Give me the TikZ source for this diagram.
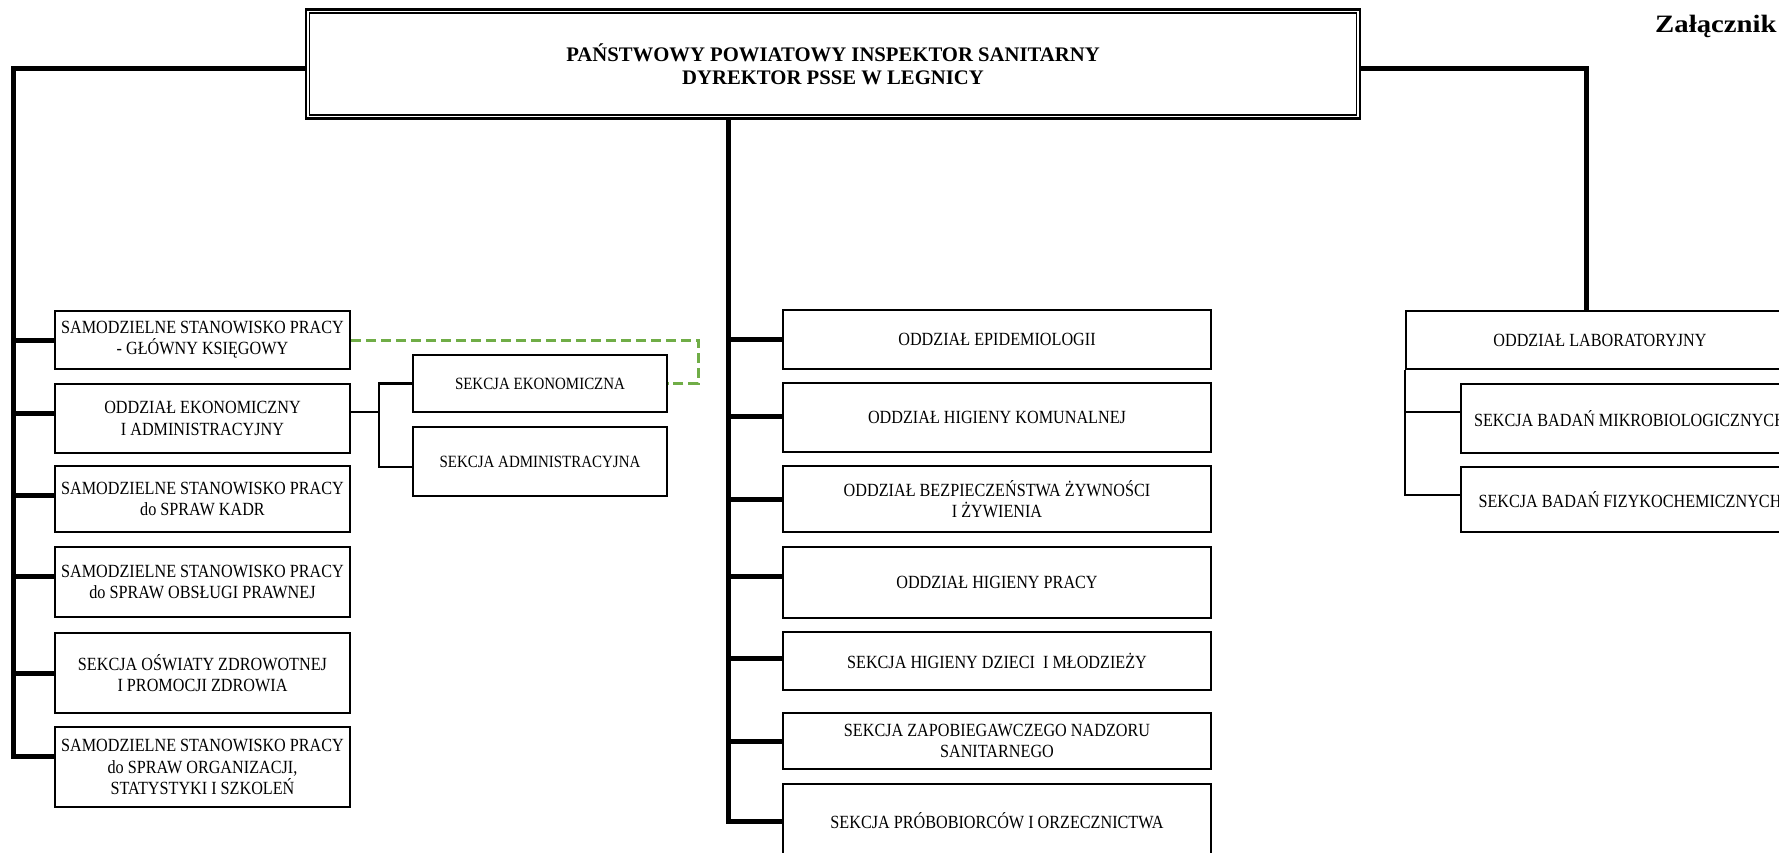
\documentclass[tikz,border=0pt]{standalone}
\usepackage{fontspec}
\setmainfont{Liberation Serif}[FakeStretch=0.87]
\newfontfamily\titlefont{Liberation Serif}
\newfontfamily\zalfont{Liberation Serif}[FakeStretch=1.15]
\definecolor{dgreen}{HTML}{70AD47}
\begin{document}
\begin{tikzpicture}[x=1pt,y=-1pt,
  box/.style={draw, line width=2.3pt, inner sep=0pt, align=center, font=\fontsize{18.6}{21.3}\selectfont},
  sbox/.style={box, font=\fontsize{17.2}{20}\selectfont},
  bus/.style={line width=5pt, line join=miter},
  conn/.style={line width=2.2pt},
  gdash/.style={line width=3pt, draw=dgreen, dash pattern=on 10pt off 5pt}]
\useasboundingbox (0,0) rectangle (1779,853);
\clip (0,0) rectangle (1779,853);

% top box
\node[draw, line width=2.6pt, minimum width=1054pt, minimum height=109pt, inner sep=0pt, align=center,
      font=\titlefont\bfseries\fontsize{20.7}{23}\selectfont] (top) at (833,64)
      {PAŃSTWOWY POWIATOWY INSPEKTOR SANITARNY\\DYREKTOR PSSE W LEGNICY};
\draw[line width=1.5pt] ([shift={(4.8pt,-4.8pt)}]top.north west) rectangle ([shift={(-4.8pt,4.8pt)}]top.south east);

\node[anchor=base west, inner sep=0pt, font=\zalfont\bfseries\fontsize{25}{28}\selectfont] (zal) at (1655,33) {Załącznik};

% left column
\node[box, minimum width=295pt, minimum height=58pt] (L1) at (202.5,340) {SAMODZIELNE STANOWISKO PRACY\\- GŁÓWNY KSIĘGOWY};
\node[box, minimum width=295pt, minimum height=69pt] (L2) at (202.5,418.5) {ODDZIAŁ EKONOMICZNY\\I ADMINISTRACYJNY};
\node[box, minimum width=295pt, minimum height=66pt] (L3) at (202.5,499) {SAMODZIELNE STANOWISKO PRACY\\do SPRAW KADR};
\node[box, minimum width=295pt, minimum height=70pt] (L4) at (202.5,582) {SAMODZIELNE STANOWISKO PRACY\\do SPRAW OBSŁUGI PRAWNEJ};
\node[box, minimum width=295pt, minimum height=80pt] (L5) at (202.5,673) {SEKCJA OŚWIATY ZDROWOTNEJ\\I PROMOCJI ZDROWIA};
\node[box, minimum width=295pt, minimum height=80pt] (L6) at (202.5,767) {SAMODZIELNE STANOWISKO PRACY\\do SPRAW ORGANIZACJI,\\STATYSTYKI I SZKOLEŃ};

% sub sections
\node[sbox, minimum width=254pt, minimum height=57pt] (SE) at (540,383.5) {SEKCJA EKONOMICZNA};
\node[sbox, minimum width=254pt, minimum height=69pt] (SA) at (540,461.5) {SEKCJA ADMINISTRACYJNA};

% centre column
\node[box, minimum width=428pt, minimum height=59pt] (C1) at (997,339.5) {ODDZIAŁ EPIDEMIOLOGII};
\node[box, minimum width=428pt, minimum height=69pt] (C2) at (997,417.5) {ODDZIAŁ HIGIENY KOMUNALNEJ};
\node[box, minimum width=428pt, minimum height=66pt] (C3) at (997,499) {ODDZIAŁ BEZPIECZEŃSTWA ŻYWNOŚCI\\I ŻYWIENIA};
\node[box, minimum width=428pt, minimum height=71pt] (C4) at (997,582.5) {ODDZIAŁ HIGIENY PRACY};
\node[box, minimum width=428pt, minimum height=58pt] (C5) at (997,661) {SEKCJA HIGIENY DZIECI~ I MŁODZIEŻY};
\node[box, minimum width=428pt, minimum height=56pt] (C6) at (997,741) {SEKCJA ZAPOBIEGAWCZEGO NADZORU\\SANITARNEGO};
\node[box, minimum width=428pt, minimum height=74pt] (C7) at (997,821) {SEKCJA PRÓBOBIORCÓW I ORZECZNICTWA};

% right column
\node[box, minimum width=388pt, minimum height=58pt] (LAB) at (1600,340) {ODDZIAŁ LABORATORYJNY};
\node[box, minimum width=338pt, minimum height=69pt] (MK) at (1630,418.5) {SEKCJA BADAŃ MIKROBIOLOGICZNYCH};
\node[box, minimum width=338pt, minimum height=65pt] (FZ) at (1630,499.5) {SEKCJA BADAŃ FIZYKOCHEMICZNYCH};

% coordinates for buses
\coordinate (lbus) at (13,69);
\coordinate (l6c) at ([yshift=11pt]L6.west);
\coordinate (trunk) at (728,821);
\coordinate (rtr) at (1586,69);
\coordinate (fork) at (379,412);
\coordinate (gcorner) at (698,383.5);
\coordinate (mkc) at ([yshift=6.5pt]MK.west);
\coordinate (fzc) at ([yshift=4.5pt]FZ.west);

% left bus
\draw[bus] ([yshift=-5pt]top.west) -- (lbus) -- (l6c -| lbus) -- (l6c);
\draw[bus] (lbus |- L1.west) -- (L1.west);
\draw[bus] ([yshift=5.5pt]L2.west -| lbus) -- ([yshift=5.5pt]L2.west);
\draw[bus] (lbus |- L3.west) ++(0,-4) -- ([yshift=4pt]L3.west);
\draw[bus] (lbus |- L4.west) ++(0,-6) -- ([yshift=6pt]L4.west);
\draw[bus] (lbus |- L5.west) -- (L5.west);

% sub section connectors
\draw[conn] ([yshift=6.5pt]L2.east) -- (fork);
\draw[conn] (SE.west) -| (fork);
\draw[conn] ([yshift=-5.5pt]SA.west) -| (fork);
\draw[gdash] (L1.east) -| (gcorner) -- (SE.east);

% centre trunk
\draw[bus] (top.south -| trunk) -- (trunk) -- (C7.west |- trunk);
\draw[bus] (trunk |- C1.west) -- (C1.west);
\draw[bus] (trunk |- C2.west) ++(0,-1.5) -- ([yshift=1.5pt]C2.west);
\draw[bus] (trunk |- C3.west) -- (C3.west);
\draw[bus] (trunk |- C4.west) ++(0,-6.5) -- ([yshift=6.5pt]C4.west);
\draw[bus] (trunk |- C5.west) ++(0,-3) -- ([yshift=3pt]C5.west);
\draw[bus] (trunk |- C6.west) -- (C6.west);

% right bus
\draw[bus] ([yshift=-5pt]top.east) -| (LAB.north -| rtr);
\draw[conn] (LAB.south west) |- (fzc);
\draw[conn] (mkc -| LAB.south west) -- (mkc);
\end{tikzpicture}
\end{document}
